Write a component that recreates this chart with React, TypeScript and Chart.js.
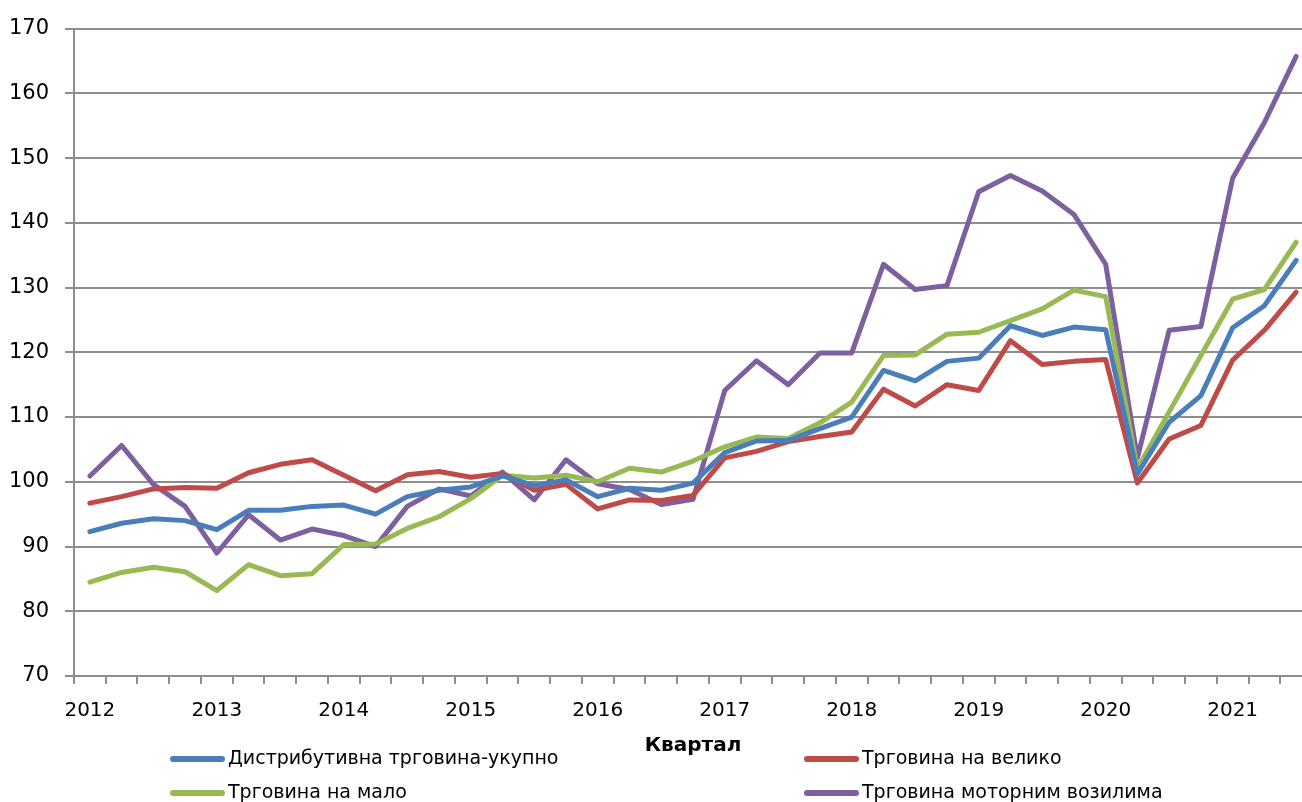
import React, { useEffect, useRef } from "react";
import { Chart, registerables } from "chart.js";

Chart.register(...registerables);

const years = [2012, 2013, 2014, 2015, 2016, 2017, 2018, 2019, 2020, 2021];
const quartersPerYear = ["Q1", "Q2", "Q3", "Q4"];
const pointCount = 39;

const totalTrade = [92.3, 93.6, 94.3, 94.0, 92.6, 95.6, 95.6, 96.2, 96.4, 95.0, 97.7, 98.7, 99.2, 100.9, 99.4, 100.3, 97.7, 99.0, 98.7, 99.8, 104.5, 106.3, 106.4, 108.2, 110.0, 117.2, 115.6, 118.6, 119.1, 124.1, 122.6, 123.9, 123.5, 101.2, 109.2, 113.3, 123.8, 127.2, 134.2];
const wholesale = [96.7, 97.7, 98.9, 99.1, 99.0, 101.4, 102.7, 103.4, 101.0, 98.6, 101.1, 101.6, 100.7, 101.3, 98.7, 99.6, 95.8, 97.2, 97.1, 97.9, 103.7, 104.7, 106.2, 107.0, 107.7, 114.3, 111.7, 115.0, 114.1, 121.8, 118.1, 118.6, 118.9, 99.8, 106.6, 108.7, 118.8, 123.4, 129.3];
const retail = [84.5, 86.0, 86.8, 86.1, 83.2, 87.2, 85.5, 85.8, 90.3, 90.4, 92.8, 94.6, 97.4, 101.0, 100.6, 101.0, 100.0, 102.1, 101.5, 103.2, 105.4, 106.9, 106.7, 109.1, 112.3, 119.5, 119.6, 122.8, 123.1, 124.9, 126.7, 129.6, 128.6, 102.0, 110.8, 119.5, 128.2, 129.7, 137.0];
const motorVehicles = [100.9, 105.6, 99.6, 96.2, 89.0, 94.9, 91.0, 92.7, 91.7, 90.0, 96.2, 98.9, 97.8, 101.5, 97.2, 103.4, 99.7, 98.8, 96.5, 97.3, 114.1, 118.7, 115.0, 119.9, 119.9, 133.6, 129.7, 130.3, 144.8, 147.3, 144.9, 141.3, 133.6, 103.7, 123.4, 124.0, 146.9, 155.5, 165.7];

const seriesNames = [
  "Дистрибутивна трговина-укупно",
  "Трговина на велико",
  "Трговина на мало",
  "Трговина моторним возилима",
];
const seriesColors = ["#4A7EBB", "#BE4B48", "#98B954", "#7D60A0"];
const axisTitle = "Квартал";
const yMin = 70;
const yMax = 170;
const yStep = 10;

const FONT = "'DejaVu Sans', sans-serif";

const quarterLabels: string[] = [];
years.forEach((y) => quartersPerYear.forEach((q) => quarterLabels.push(`${y} ${q}`)));
const labels = quarterLabels.slice(0, pointCount);

const legendPlugin = {
  id: "gridLegend",
  afterDraw(chart: any) {
    const ctx = chart.ctx;
    const cols = [170, 804];
    const rows = [759, 793];
    ctx.save();
    ctx.font = `19px ${FONT}`;
    ctx.textBaseline = "middle";
    ctx.textAlign = "left";
    chart.data.datasets.forEach((ds: any, i: number) => {
      const x = cols[i % 2];
      const y = rows[Math.floor(i / 2)];
      ctx.strokeStyle = ds.borderColor;
      ctx.lineWidth = 6;
      ctx.lineCap = "round";
      ctx.beginPath();
      ctx.moveTo(x + 3, y);
      ctx.lineTo(x + 52, y);
      ctx.stroke();
      ctx.fillStyle = "#000";
      ctx.fillText(ds.label, x + 58, y);
    });
    ctx.restore();
  },
};

export default function App() {
  const canvasRef = useRef<HTMLCanvasElement | null>(null);

  useEffect(() => {
    const canvas = canvasRef.current;
    if (!canvas) return;
    const dataSeries = [totalTrade, wholesale, retail, motorVehicles];
    const chart = new Chart(canvas, {
      type: "line",
      data: {
        labels,
        datasets: dataSeries.map((d, i) => ({
          label: seriesNames[i],
          data: d,
          borderColor: seriesColors[i],
          backgroundColor: seriesColors[i],
          borderWidth: 5,
          pointRadius: 0,
          tension: 0,
          borderJoinStyle: "round" as const,
          borderCapStyle: "round" as const,
          fill: false,
        })),
      },
      options: {
        responsive: false,
        animation: false,
        devicePixelRatio: 1,
        layout: { padding: { top: 25, right: 0, left: 0, bottom: 0 } },
        plugins: {
          legend: { display: false },
          tooltip: { enabled: false },
          title: { display: false },
        },
        scales: {
          x: {
            type: "category",
            offset: true,
            grid: {
              offset: true,
              drawOnChartArea: false,
              drawTicks: true,
              tickLength: 8,
              color: "#8e8e8e",
              lineWidth: 2,
            },
            border: { color: "#8e8e8e", width: 2 },
            ticks: {
              autoSkip: false,
              maxRotation: 0,
              minRotation: 0,
              padding: 15,
              color: "#000",
              font: { family: FONT, size: 20 },
              callback: (_v: any, idx: number) => (idx % 4 === 0 ? String(years[idx / 4]) : ""),
            },
            title: {
              display: true,
              text: axisTitle,
              color: "#000",
              font: { family: FONT, size: 20, weight: "bold" },
              padding: { top: 0, bottom: 44 },
            },
            afterFit: (scale: any) => {
              scale.height = 126;
            },
          },
          y: {
            min: yMin,
            max: yMax,
            grid: {
              color: "#8e8e8e",
              lineWidth: 2,
              tickLength: 9,
            },
            border: { color: "#8e8e8e", width: 2 },
            ticks: {
              stepSize: yStep,
              padding: 16,
              color: "#000",
              font: { family: FONT, size: 21 },
            },
            afterFit: (scale: any) => {
              scale.width = 74;
            },
          },
        },
      },
      plugins: [legendPlugin],
    });
    return () => chart.destroy();
  }, []);

  return (
    <div
      style={{
        position: "absolute",
        left: 0,
        top: 0,
        width: 1302,
        height: 802,
        overflow: "hidden",
        background: "#fff",
      }}
    >
      <canvas ref={canvasRef} width={1312} height={802} style={{ width: 1312, height: 802, display: "block" }} />
    </div>
  );
}
